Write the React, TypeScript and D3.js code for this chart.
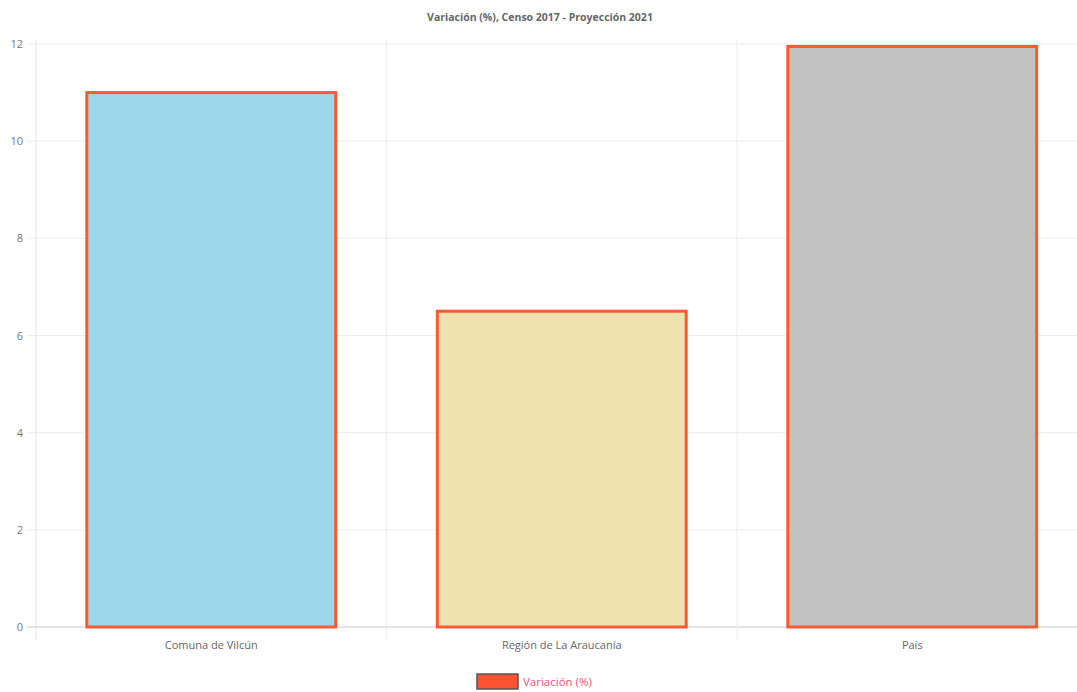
import React from "react";
import * as d3 from "d3";

const categories = ["Comuna de Vilcún", "Región de La Araucanía", "País"];
const values = [11.0, 6.5, 11.95];
const barColors = ["#9cd8ea", "#efe2ae", "#c2c2c2"];
const yTicks = [0, 2, 4, 6, 8, 10, 12];
const title = "Variación (%), Censo 2017 - Proyección 2021";
const seriesName = "Variación (%)";

const W = 1077;
const H = 692;
const left = 36;
const top = 44;
const bottom = 627;
const bandW = 350.5;

export default function App() {
  const x = d3
    .scaleBand<string>()
    .domain(categories)
    .range([left, left + bandW * categories.length])
    .paddingInner(0)
    .paddingOuter(0);
  const y = d3.scaleLinear().domain([0, 12]).range([bottom, top]);
  const barFrac = 0.71;
  const font = "'Open Sans', Lato, sans-serif";

  return (
    <svg
      width={W}
      height={H}
      style={{ position: "absolute", left: 0, top: 0, background: "#fff" }}
      fontFamily={font}
    >
      <text x={540} y={21} textAnchor="middle" fontSize={10.5} fontWeight="bold" fill="#666">
        {title}
      </text>
      {/* horizontal grid */}
      {yTicks.map((t) => (
        <g key={t}>
          <line
            x1={27}
            x2={W}
            y1={y(t)}
            y2={y(t)}
            stroke={t === 0 ? "#c8c8c8" : "#ececec"}
            strokeWidth={1}
          />
          <text x={23} y={y(t) + 4} textAnchor="end" fontSize={11} fill="#777">
            {t}
          </text>
        </g>
      ))}
      {/* vertical grid */}
      {categories.map((c, i) => (
        <line
          key={c}
          x1={(x(c) as number)}
          x2={(x(c) as number)}
          y1={top - 4}
          y2={bottom + 13}
          stroke={i === 0 ? "#e2e2e2" : "#ececec"}
        />
      ))}
      {/* bars */}
      {categories.map((c, i) => {
        const bw = x.bandwidth() * barFrac;
        const bx = (x(c) as number) + (x.bandwidth() - bw) / 2;
        return (
          <rect
            key={c}
            x={bx}
            y={y(values[i])}
            width={bw}
            height={y(0) - y(values[i])}
            fill={barColors[i]}
            stroke="#fa5a32"
            strokeWidth={3}
          />
        );
      })}
      {/* x labels */}
      {categories.map((c) => (
        <text
          key={c}
          x={(x(c) as number) + x.bandwidth() / 2}
          y={649}
          textAnchor="middle"
          fontSize={11}
          fill="#666"
        >
          {c}
        </text>
      ))}
      {/* legend */}
      <rect x={477} y={674} width={41} height={15} fill="#fc5330" stroke="#555" strokeWidth={1.5} />
      <text x={523} y={686} fontSize={11.5} fill="#f0507a">
        {seriesName}
      </text>
    </svg>
  );
}
